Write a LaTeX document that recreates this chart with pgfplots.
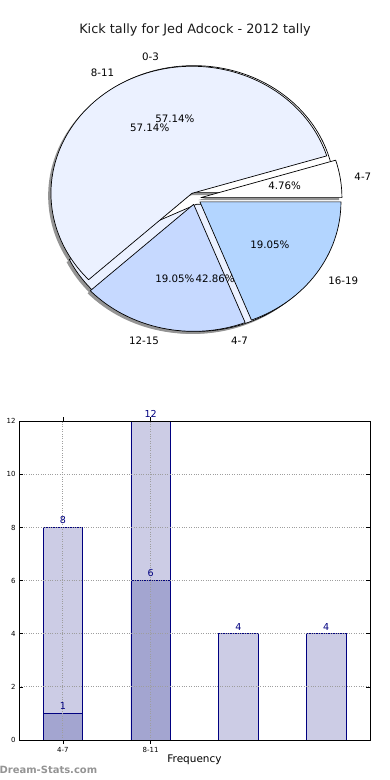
\documentclass[border=0pt]{standalone}
\usepackage{pgfplots}
\pgfplotsset{compat=1.18}
\usepackage{fontspec}
\setmainfont{DejaVu Sans}
\definecolor{pieW}{HTML}{FFFFFF}
\definecolor{pieL}{HTML}{EBF1FF}
\definecolor{pieM}{HTML}{C6D9FF}
\definecolor{pieD}{HTML}{B3D5FF}
\definecolor{barL}{HTML}{CCCCE5}
\definecolor{barD}{HTML}{A3A5D0}
\definecolor{navy}{HTML}{000080}

% pie geometry (in bp, picture coordinates)
\def\pieCX{195}\def\pieCY{581.5}\def\pieRX{141}\def\pieRY{127}\def\pieExp{6}

% #1 start angle, #2 end angle, #3 path options, #4 dx, #5 dy
\newcommand\pieWedge[5]{%
  \pgfmathsetmacro\pwMid{(#1+#2)/2}%
  \pgfmathsetmacro\pwX{\pieCX+\pieExp*cos(\pwMid)+#4}%
  \pgfmathsetmacro\pwY{\pieCY+\pieExp*sin(\pwMid)+#5}%
  \path[#3] (axis cs:\pwX,\pwY) -- (axis cs:{\pwX+\pieRX*cos(#1)},{\pwY+\pieRY*sin(#1)})
     arc[start angle=#1,end angle=#2,x radius=\pieRX bp,y radius=\pieRY bp] -- cycle;%
}
% #1 start, #2 end, #3 label, #4 percentage
\newcommand\pieText[4]{%
  \pgfmathsetmacro\ptMid{(#1+#2)/2}%
  \pgfmathsetmacro\ptX{\pieCX+\pieExp*cos(\ptMid)}%
  \pgfmathsetmacro\ptY{\pieCY+\pieExp*sin(\ptMid)}%
  \pgfmathparse{cos(\ptMid)<0}%
  \ifdim\pgfmathresult pt>0.5pt \def\ptAnc{east}\else\def\ptAnc{west}\fi
  \node[anchor=\ptAnc,inner sep=0pt,font=\fontsize{10.3}{12}\selectfont]
     at (axis cs:{\ptX+1.1*\pieRX*cos(\ptMid)},{\ptY+1.1*\pieRY*sin(\ptMid)}) {#3};%
  \node[anchor=center,inner sep=0pt,font=\fontsize{10.3}{12}\selectfont]
     at (axis cs:{\ptX+0.6*\pieRX*cos(\ptMid)},{\ptY+0.6*\pieRY*sin(\ptMid)}) {#4};%
}

\begin{document}
\begin{tikzpicture}
\path[use as bounding box] (0bp,0bp) rectangle (390bp,780bp);
% ---------------- pie charts ----------------
\begin{axis}[at={(0bp,0bp)},anchor=south west,scale only axis,
  width=390bp,height=780bp,xmin=0,xmax=390,ymin=0,ymax=780,
  hide axis,clip=false]
\pgfplotsextra{%
  % pie A counts: 4-7 = 1, 8-11 = 12, 12-15 = 4, 16-19 = 4 (total 21)
  \pgfmathsetmacro\aO{0}%
  \pgfmathsetmacro\aI{360*1/21}%
  \pgfmathsetmacro\aII{\aI+360*12/21}%
  \pgfmathsetmacro\aIII{\aII+360*4/21}%
  \pgfmathsetmacro\aIV{\aIII+360*4/21}%
  % pie B counts: 0-3 = 8, 4-7 = 6 (total 14)
  \pgfmathsetmacro\bI{360*8/14}%
  \pgfmathsetmacro\bII{\bI+360*6/14}%
  % shadows
  \pieWedge{0}{\bI}{fill=black!42}{-2.8}{-2.5}%
  \pieWedge{\bI}{\bII}{fill=black!42}{-2.8}{-2.5}%
  \pieWedge{\aO}{\aI}{fill=black!42}{-2.8}{-2.5}%
  \pieWedge{\aI}{\aII}{fill=black!42}{-2.8}{-2.5}%
  \pieWedge{\aII}{\aIII}{fill=black!42}{-2.8}{-2.5}%
  \pieWedge{\aIII}{\aIV}{fill=black!42}{-2.8}{-2.5}%
  % pie B
  \pieWedge{0}{\bI}{fill=pieW,draw=black,line width=0.7bp,line join=round}{0}{0}%
  \pieWedge{\bI}{\bII}{fill=pieL,draw=black,line width=0.7bp,line join=round}{0}{0}%
  % pie A
  \pieWedge{\aO}{\aI}{fill=pieW,draw=black,line width=0.7bp,line join=round}{0}{0}%
  \pieWedge{\aI}{\aII}{fill=pieL,draw=black,line width=0.7bp,line join=round}{0}{0}%
  \pieWedge{\aII}{\aIII}{fill=pieM,draw=black,line width=0.7bp,line join=round}{0}{0}%
  \pieWedge{\aIII}{\aIV}{fill=pieD,draw=black,line width=0.7bp,line join=round}{0}{0}%
  % labels
  \pieText{0}{\bI}{0-3}{57.14\%}%
  \pieText{\bI}{\bII}{4-7}{42.86\%}%
  \pieText{\aO}{\aI}{4-7}{4.76\%}%
  \pieText{\aI}{\aII}{8-11}{57.14\%}%
  \pieText{\aII}{\aIII}{12-15}{19.05\%}%
  \pieText{\aIII}{\aIV}{16-19}{19.05\%}%
  \node[font=\fontsize{12.9}{15}\selectfont,text=black!90] at (axis cs:195,750) {Kick tally for Jed Adcock - 2012 tally};%
  \node[anchor=west,inner sep=0pt,font=\fontsize{10}{12}\selectfont\bfseries,text=black!42] at (axis cs:-0.5,10) {Dream-Stats.com};%
}
\end{axis}
% ---------------- bar chart ----------------
\begin{axis}[at={(19bp,40bp)},anchor=south west,scale only axis,
  width=351bp,height=318.7bp,
  xmin=-0.5,xmax=3.5,ymin=0,ymax=12,
  ytick={0,2,...,12},xtick={0,1},xticklabels={4-7,8-11},
  tick align=inside,tick pos=both,major tick length=4bp,
  tick style={black,line width=0.6bp},
  ymajorgrids,xmajorgrids,grid style={dotted,black!38,line width=0.8bp},
  axis on top,axis line style={black,line width=0.8bp},
  tick label style={font=\fontsize{7}{8}\selectfont},
  /pgf/number format/assume math mode=true,
  xlabel={Frequency},
  xlabel style={font=\fontsize{10.5}{12}\selectfont,at={(axis description cs:0.5,0)},anchor=center,yshift=-20bp},
  ybar,bar width=39.5bp,bar shift=0pt,clip=false,
  nodes near coords,
  every node near coord/.append style={font=\fontsize{9.6}{10}\selectfont,text=navy},
]
\addplot[fill=barL,draw=navy,line width=0.7bp] coordinates {(0,8) (1,12) (2,4) (3,4)};
\addplot[fill=barD,draw=navy,line width=0.7bp] coordinates {(0,1) (1,6)};
\end{axis}
\end{tikzpicture}
\end{document}
